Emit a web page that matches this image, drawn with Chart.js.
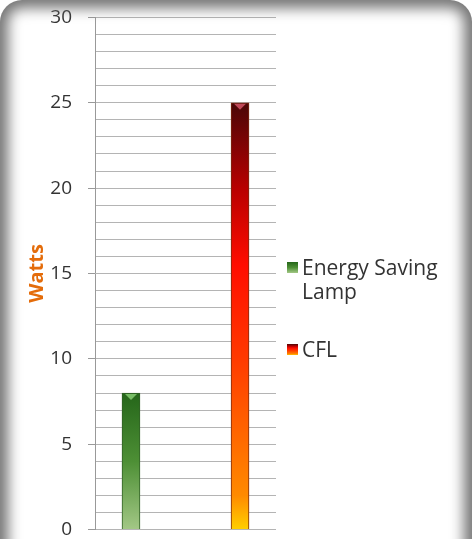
<!DOCTYPE html>
<html>
<head>
<meta charset="utf-8">
<script src="https://cdn.jsdelivr.net/npm/chart.js@4/dist/chart.umd.min.js"></script>
<style>
  html, body { margin: 0; padding: 0; background: #fff; overflow: hidden; }
  #wrap { position: relative; width: 472px; height: 539px; overflow: hidden; }
  #chart { position: absolute; left: 0; top: -10px; }
  #frame {
    position: absolute; left: 0; top: 0; width: 472px; height: 600px;
    border-radius: 22px;
    box-shadow: inset 0 0 14px 8px #747474;
    pointer-events: none; z-index: 2;
  }
  #legend {
    position: absolute; left: 287px; top: 255px;
    font-family: "Open Sans", sans-serif; font-size: 21px; color: #333;
  }
  .item { position: relative; padding-left: 15px; line-height: 24px; margin-bottom: 34px; white-space: nowrap; }
  .sw { position: absolute; left: 0; top: 7px; width: 11px; height: 11px; }
</style>
</head>
<body>
<div id="wrap">
  <canvas id="chart" width="472" height="567"></canvas>
  <div id="legend"></div>
  <div id="frame"></div>
</div>
<script>
const categories = ['Energy Saving Lamp', 'CFL'];
const watts = [8, 25];
const yMax = 30;
const yStep = 1;
const labelEvery = 5;

// gradient stops per series (top -> bottom)
const seriesStops = [
  [[0, '#25661a'], [0.5, '#4d8f35'], [1, '#a3c886']],
  [[0, '#4a0707'], [0.2, '#b80000'], [0.38, '#ff0d00'], [0.6, '#ff3a00'], [0.92, '#ff8a00'], [1, '#ffd000']]
];
const borderColors = ['#2f5f24', '#7a2a10'];
const legendLines = [['Energy Saving', 'Lamp'], ['CFL']];

function barGradient(ctx, i) {
  const chart = ctx.chart;
  if (!chart.chartArea) return seriesStops[i][0][1];
  const y = chart.scales.y;
  const top = y.getPixelForValue(watts[i]);
  const bottom = y.getPixelForValue(0);
  const g = chart.ctx.createLinearGradient(0, top, 0, bottom);
  seriesStops[i].forEach(s => g.addColorStop(s[0], s[1]));
  return g;
}

const notchPlugin = {
  id: 'notch',
  afterDatasetsDraw(chart) {
    const c = chart.ctx;
    chart.data.datasets.forEach((ds, i) => {
      chart.getDatasetMeta(i).data.forEach(bar => {
        const w = bar.width;
        c.save();
        c.fillStyle = i === 0 ? 'rgba(140,210,120,0.8)' : 'rgba(220,90,110,0.8)';
        c.beginPath();
        c.moveTo(bar.x - w / 2 + 3, bar.y + 1);
        c.lineTo(bar.x + w / 2 - 3, bar.y + 1);
        c.lineTo(bar.x, bar.y + 7);
        c.closePath();
        c.fill();
        c.restore();
      });
    });
  }
};

const datasets = categories.map((name, i) => ({
  label: name,
  data: [{ x: i + 1, y: watts[i] }],
  backgroundColor: ctx => barGradient(ctx, i),
  borderColor: borderColors[i],
  borderWidth: 1,
  barThickness: 18,
  grouped: false
}));

new Chart(document.getElementById('chart'), {
  type: 'bar',
  data: { datasets: datasets },
  options: {
    responsive: false,
    animation: false,
    layout: { padding: { left: 25, right: 196, top: 9, bottom: 0 } },
    plugins: { legend: { display: false }, tooltip: { enabled: false } },
    scales: {
      x: {
        type: 'linear',
        min: 0.67,
        max: 2.33,
        offset: false,
        display: false
      },
      y: {
        min: 0,
        max: yMax,
        afterFit: scale => { scale.width = 70; },
        ticks: {
          stepSize: yStep,
          autoSkip: false,
          padding: 16,
          color: '#333',
          font: { family: '"Open Sans", sans-serif', size: 19 },
          callback: v => (v % labelEvery === 0 ? v : '')
        },
        grid: {
          color: '#b4b4b4',
          lineWidth: 1,
          tickLength: 7,
          tickColor: ctx => (ctx.tick && ctx.tick.value % labelEvery === 0 ? '#999' : 'rgba(0,0,0,0)')
        },
        border: { color: '#999' },
        title: {
          display: true,
          text: 'Watts',
          color: '#e46c0a',
          font: { family: '"Open Sans", sans-serif', size: 20, weight: 'bold' },
          padding: { top: 0, bottom: 0 }
        }
      }
    }
  },
  plugins: [notchPlugin]
});

const legend = document.getElementById('legend');
categories.forEach((name, i) => {
  const item = document.createElement('div');
  item.className = 'item';
  const sw = document.createElement('span');
  sw.className = 'sw';
  const stops = seriesStops[i].map(s => `${s[1]} ${s[0] * 100}%`).join(',');
  sw.style.background = `linear-gradient(${stops})`;
  item.appendChild(sw);
  item.innerHTML += legendLines[i].join('<br>');
  legend.appendChild(item);
});
</script>
</body>
</html>
